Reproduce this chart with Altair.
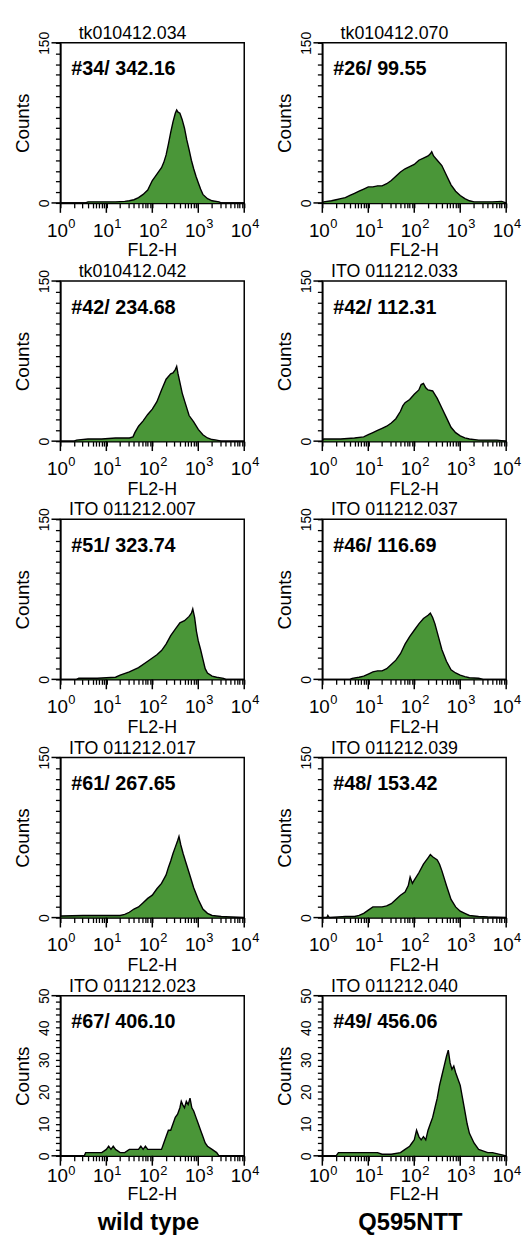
import altair as alt
import pandas as pd

FONT = "Liberation Sans"
GREEN = "#4a9638"
W, H = 186, 162

# ---------------- data (log10 of FL2-H channel position, counts) ----------------
WT1_NAME, WT1_NOTE = "tk010412.034", "#34/ 342.16"
WT1_LOG = [0, 0.55, 0.6, 0.8, 1.0, 1.2, 1.4, 1.5, 1.6, 1.7, 1.8, 1.9, 2.0, 2.05, 2.1, 2.15, 2.2, 2.25, 2.3, 2.35, 2.4,
           2.45, 2.5, 2.53, 2.56, 2.6, 2.65, 2.7, 2.75, 2.8, 2.85, 2.9, 2.95, 3.0, 3.05, 3.1, 3.2, 3.3, 3.45, 3.5, 4.0]
WT1_CNT = [0, 0, 1, 1, 1, 1, 1.5, 2, 3, 5, 8, 12, 21, 24, 27, 30, 33, 38, 45, 55, 66, 76, 84, 87, 85, 84, 78, 70, 59,
           50, 40, 32, 25, 19, 13, 8, 4, 2, 1, 0, 0]

WT2_NAME, WT2_NOTE = "tk010412.042", "#42/ 234.68"
WT2_LOG = [0, 0.3, 0.35, 0.6, 0.9, 1.2, 1.5, 1.58, 1.62, 1.7, 1.8, 1.9, 2.0, 2.1, 2.2, 2.3, 2.4, 2.45, 2.5, 2.53,
           2.56, 2.6, 2.65, 2.7, 2.8, 2.9, 3.0, 3.1, 3.2, 3.3, 3.4, 3.5, 4.0]
WT2_CNT = [0, 0, 1, 2, 2, 3, 3, 4, 8, 14, 19, 25, 30, 37, 48, 58, 63, 64, 67, 70, 63, 55, 45, 38, 24, 18, 11, 6, 3,
           1.5, 1, 0, 0]

WT3_NAME, WT3_NOTE = "ITO 011212.007", "#51/ 323.74"
WT3_LOG = [0, 0.35, 0.4, 0.8, 1.0, 1.2, 1.3, 1.5, 1.7, 1.9, 2.0, 2.1, 2.2, 2.3, 2.4, 2.5, 2.6, 2.7, 2.8, 2.85, 2.88,
           2.92, 2.96, 3.0, 3.05, 3.1, 3.15, 3.2, 3.3, 3.4, 3.55, 3.6, 4.0]
WT3_CNT = [0, 0, 1, 1, 1.5, 2, 4, 7, 11, 17, 20, 23, 27, 33, 41, 47, 53, 55, 59, 62, 66, 58, 45, 36, 28, 19, 10, 6,
           3, 2, 1, 0, 0]

WT4_NAME, WT4_NOTE = "ITO 011212.017", "#61/ 267.65"
WT4_LOG = [0, 0.02, 0.5, 1.0, 1.3, 1.4, 1.5, 1.6, 1.7, 1.8, 1.9, 2.0, 2.1, 2.2, 2.3, 2.35, 2.4, 2.45, 2.5, 2.55,
           2.58, 2.62, 2.67, 2.72, 2.8, 2.9, 3.0, 3.1, 3.2, 3.3, 3.5, 3.7, 4.0]
WT4_CNT = [0, 1.5, 2, 2, 2, 3, 5, 8, 10, 14, 18, 21, 27, 32, 40, 47, 53, 60, 66, 72, 76, 68, 60, 53, 42, 28, 17, 8,
           4, 2, 1, 0.5, 0]

WT5_NAME, WT5_NOTE = "ITO 011212.023", "#67/ 406.10"
WT5_LOG = [0, 0.52, 0.55, 0.7, 0.9, 1.0, 1.05, 1.1, 1.15, 1.2, 1.3, 1.4, 1.5, 1.6, 1.7, 1.75, 1.8, 1.85, 1.9, 2.0,
           2.1, 2.2, 2.25, 2.3, 2.35, 2.4, 2.45, 2.5, 2.55, 2.6, 2.63, 2.66, 2.7, 2.74, 2.78, 2.82, 2.86, 2.9, 2.95,
           3.0, 3.05, 3.1, 3.15, 3.2, 3.3, 3.4, 3.45, 4.0]
WT5_CNT = [0, 0, 1, 1, 1, 2, 3, 2, 3, 2, 1, 1, 2, 2, 2, 3, 2, 3, 2, 2, 2, 2, 4, 6, 8, 8, 10, 12, 13, 15, 17, 16, 15,
           17, 16, 18, 15, 14, 12, 10, 8, 6, 4, 3, 2, 1, 0, 0]

Q1_NAME, Q1_NOTE = "tk010412.070", "#26/ 99.55"
Q1_LOG = [0, 0.03, 0.2, 0.3, 0.4, 0.5, 0.6, 0.7, 0.8, 0.9, 1.0, 1.1, 1.2, 1.3, 1.4, 1.5, 1.6, 1.7, 1.8, 1.9, 2.0,
          2.1, 2.2, 2.3, 2.35, 2.38, 2.42, 2.5, 2.6, 2.7, 2.8, 2.9, 3.0, 3.1, 3.2, 3.3, 3.5, 3.7, 3.9, 4.0]
Q1_CNT = [0, 1, 2, 3, 4, 5, 7, 9, 11, 13, 15, 15, 16, 16, 18, 21, 25, 29, 32, 34, 36, 40, 42, 44, 46, 48, 44, 40,
          35, 26, 17, 11, 7, 4, 2, 1, 1, 1, 1.5, 0]

Q2_NAME, Q2_NOTE = "ITO 011212.033", "#42/ 112.31"
Q2_LOG = [0, 0.03, 0.4, 0.7, 0.9, 1.0, 1.1, 1.2, 1.3, 1.4, 1.5, 1.6, 1.7, 1.75, 1.8, 1.9, 2.0, 2.1, 2.15, 2.2, 2.25,
          2.3, 2.4, 2.5, 2.6, 2.7, 2.8, 2.9, 3.0, 3.1, 3.2, 3.4, 3.6, 3.8, 4.0]
Q2_CNT = [0, 2, 2, 3, 4, 6, 8, 10, 12, 14, 17, 21, 28, 33, 36, 39, 44, 48, 53, 54, 50, 48, 47, 40, 31, 22, 13, 8, 5,
          3, 2, 1, 1, 1, 0]

Q3_NAME, Q3_NOTE = "ITO 011212.037", "#46/ 116.69"
Q3_LOG = [0, 0.6, 0.65, 0.8, 0.9, 1.0, 1.1, 1.2, 1.3, 1.4, 1.5, 1.6, 1.7, 1.8, 1.9, 2.0, 2.1, 2.2, 2.3, 2.35, 2.4,
          2.45, 2.5, 2.55, 2.6, 2.7, 2.8, 2.9, 3.0, 3.1, 3.2, 3.4, 3.5, 4.0]
Q3_CNT = [0, 0, 1, 2, 3, 5, 7, 8, 8, 10, 14, 18, 24, 33, 40, 46, 52, 57, 60, 62, 58, 52, 44, 36, 28, 17, 9, 6, 4,
          2.5, 1.5, 1, 0, 0]

Q4_NAME, Q4_NOTE = "ITO 011212.039", "#48/ 153.42"
Q4_LOG = [0, 0.1, 0.12, 0.15, 0.5, 0.7, 0.8, 0.9, 1.0, 1.1, 1.2, 1.3, 1.4, 1.5, 1.6, 1.7, 1.8, 1.87, 1.91, 1.96,
          2.0, 2.1, 2.2, 2.3, 2.35, 2.4, 2.5, 2.55, 2.6, 2.7, 2.8, 2.9, 3.0, 3.1, 3.2, 3.4, 3.6, 4.0]
Q4_CNT = [0, 0, 2, 0, 1, 1, 2, 4, 7, 10, 10, 10, 11, 13, 17, 21, 24, 30, 38, 32, 35, 42, 50, 56, 59, 57, 54, 50, 44,
          30, 17, 10, 6, 4, 2, 1, 0.5, 0]

Q5_NAME, Q5_NOTE = "ITO 011212.040", "#49/ 456.06"
Q5_LOG = [0, 0.3, 0.35, 0.5, 0.8, 1.0, 1.2, 1.3, 1.5, 1.7, 1.8, 1.9, 1.95, 2.0, 2.05, 2.1, 2.15, 2.2, 2.25, 2.3,
          2.35, 2.4, 2.45, 2.5, 2.55, 2.6, 2.65, 2.7, 2.74, 2.78, 2.82, 2.86, 2.9, 2.95, 3.0, 3.05, 3.1, 3.15, 3.2,
          3.3, 3.4, 3.6, 3.7, 4.0]
Q5_CNT = [0, 0, 1, 1, 1, 1, 1, 0.5, 0.5, 1, 2, 3, 4, 5, 8, 6, 5, 6, 5, 8, 10, 12, 15, 18, 22, 25, 28, 31, 33, 29,
          27, 28, 26, 24, 22, 18, 14, 10, 7, 4, 2, 1, 1, 0]

DECADES = [1, 10, 100, 1000, 10000]
EXPONENTS = ["0", "1", "2", "3", "4"]
MINOR = [m * d for d in [1, 10, 100, 1000] for m in range(2, 10)]
GROUP_LABELS = ["wild type", "Q595NTT"]


def panel(name, note, logs, counts, ymax, ystep, ylabstep, group_label=None):
    df = pd.DataFrame({"fl2h": [10 ** p for p in logs], "counts": counts})
    xscale = alt.Scale(type="log", domain=[1, 10000], nice=False)
    yscale = alt.Scale(domain=[0, ymax], nice=False)
    yticks = list(range(0, ymax + 1, ystep))
    yaxis = alt.Axis(
        values=yticks,
        labelExpr=f"datum.value % {ylabstep} == 0 ? datum.label : ''",
        labelAngle=-90, labelAlign="center", labelBaseline="bottom",
        labelFontSize=14, labelFont=FONT, labelPadding=4,
        tickSize=5, tickWidth=1.3, tickColor="black",
        domainColor="black", domainWidth=1.5,
        grid=False, title="Counts", titleFont=FONT, titleFontSize=19,
        titleFontWeight="normal", titlePadding=5, titleColor="black", labelColor="black",
    )
    xaxis = alt.Axis(
        values=DECADES + MINOR, labels=False, title=None, grid=False,
        tickSize=5, tickWidth=1.3, tickColor="black",
        domainColor="black", domainWidth=1.5,
    )
    last = group_label is not None
    ten_y = H + (27 if last else 34)
    exp_y = H + (19 if last else 25)
    fl_y = H + (45 if last else 54)

    area = alt.Chart(df).mark_area(
        color=GREEN, opacity=1, line={"color": "black", "strokeWidth": 1.4}, interpolate="linear"
    ).encode(
        x=alt.X("fl2h:Q", scale=xscale, axis=xaxis),
        y=alt.Y("counts:Q", scale=yscale, axis=yaxis),
    )
    dec = pd.DataFrame({"v": DECADES, "e": EXPONENTS})
    major_x = alt.Chart(dec).mark_rule(color="black", strokeWidth=1.5).encode(
        x=alt.X("v:Q", scale=xscale, axis=xaxis), y=alt.value(H), y2=alt.value(H + 10)
    )
    ylab = pd.DataFrame({"c": [0, ymax]})
    major_y = alt.Chart(ylab).mark_rule(color="black", strokeWidth=1.5).encode(
        y=alt.Y("c:Q", scale=yscale, axis=yaxis), x=alt.value(0), x2=alt.value(-9)
    )
    ten = alt.Chart(dec).mark_text(
        text="10", font=FONT, fontSize=19, align="center", baseline="alphabetic", dx=-3, color="black"
    ).encode(x=alt.X("v:Q", scale=xscale, axis=xaxis), y=alt.value(ten_y))
    expo = alt.Chart(dec).mark_text(
        font=FONT, fontSize=13, align="left", baseline="alphabetic", dx=8, color="black"
    ).encode(x=alt.X("v:Q", scale=xscale, axis=xaxis), y=alt.value(exp_y), text="e:N")
    note_t = alt.Chart(alt.Data(values=[{"t": note}])).mark_text(
        font=FONT, fontSize=20, fontWeight="bold", align="left", baseline="middle", color="black"
    ).encode(x=alt.value(11), y=alt.value(27), text="t:N")
    title_t = alt.Chart(alt.Data(values=[{"t": name}])).mark_text(
        font=FONT, fontSize=18, align="center", baseline="alphabetic", color="black"
    ).encode(x=alt.value(73), y=alt.value(-4), text="t:N")
    xt = alt.Chart(alt.Data(values=[{"t": "FL2-H"}])).mark_text(
        font=FONT, fontSize=18, align="center", baseline="alphabetic", color="black"
    ).encode(x=alt.value(W / 2), y=alt.value(fl_y), text="t:N")
    layers = [area, major_x, major_y, ten, expo, note_t, title_t, xt]
    if last:
        gl = alt.Chart(alt.Data(values=[{"t": group_label}])).mark_text(
            font=FONT, fontSize=24, fontWeight="bold", align="center", baseline="alphabetic", color="black"
        ).encode(x=alt.value(W / 2 - 4), y=alt.value(H + 75), text="t:N")
        layers.append(gl)
    return alt.layer(*layers).properties(width=W, height=H)


panels = [
    panel(WT1_NAME, WT1_NOTE, WT1_LOG, WT1_CNT, 150, 10, 150),
    panel(Q1_NAME, Q1_NOTE, Q1_LOG, Q1_CNT, 150, 10, 150),
    panel(WT2_NAME, WT2_NOTE, WT2_LOG, WT2_CNT, 150, 10, 150),
    panel(Q2_NAME, Q2_NOTE, Q2_LOG, Q2_CNT, 150, 10, 150),
    panel(WT3_NAME, WT3_NOTE, WT3_LOG, WT3_CNT, 150, 10, 150),
    panel(Q3_NAME, Q3_NOTE, Q3_LOG, Q3_CNT, 150, 10, 150),
    panel(WT4_NAME, WT4_NOTE, WT4_LOG, WT4_CNT, 150, 10, 150),
    panel(Q4_NAME, Q4_NOTE, Q4_LOG, Q4_CNT, 150, 10, 150),
    panel(WT5_NAME, WT5_NOTE, WT5_LOG, WT5_CNT, 50, 2, 10, GROUP_LABELS[0]),
    panel(Q5_NAME, Q5_NOTE, Q5_LOG, Q5_CNT, 50, 2, 10, GROUP_LABELS[1]),
]

chart = alt.concat(
    *panels, columns=2, spacing={"row": 79, "column": 79}, bounds="flush",
).properties(
    padding={"left": 5, "top": 9, "right": 0, "bottom": 0},
    background="white",
).configure_view(
    stroke="black", strokeWidth=1.5
)

chart.save("out.html", embed_options={"renderer": "svg", "actions": False})
